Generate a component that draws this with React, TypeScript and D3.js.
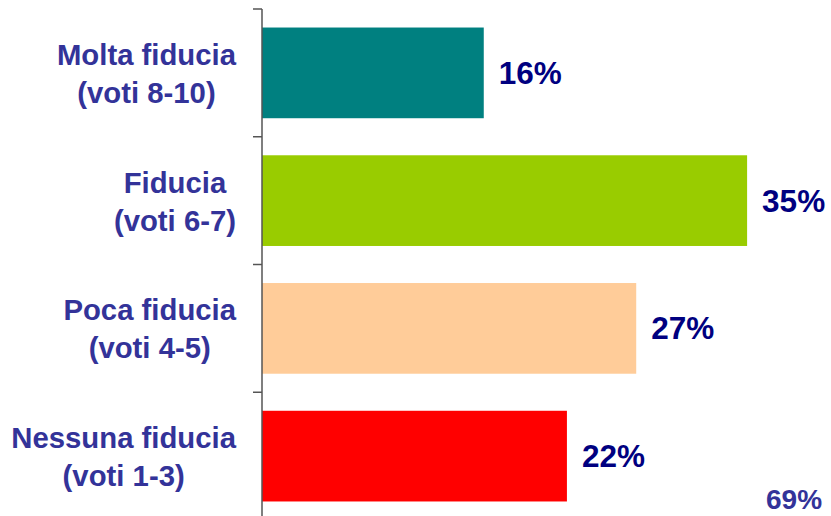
import React, { useEffect, useRef } from 'react';
import * as d3 from 'd3';

const categories = ['Molta fiducia|(voti 8-10)', 'Fiducia|(voti 6-7)', 'Poca fiducia|(voti 4-5)', 'Nessuna fiducia|(voti 1-3)'];
const values = [16, 35, 27, 22];
const colors = ['#008080', '#99CC00', '#FFCC99', '#FF0000'];
const extraLabel = '69%';

const W = 831;
const H = 516;

export default function App() {
  const ref = useRef<SVGSVGElement>(null);

  useEffect(() => {
    const svg = d3.select(ref.current);
    svg.selectAll('*').remove();

    const left = 262;
    const top = 9;
    const bottom = 520;

    const x = d3.scaleLinear().domain([0, 40]).range([left, left + 40 * 13.86]);
    const y = d3.scaleBand<string>()
      .domain(categories)
      .range([top, bottom])
      .paddingInner(0.29)
      .paddingOuter(0.145);

    const step = y.step();
    const font = 'Liberation Sans, Arial, sans-serif';

    // bars
    svg.selectAll('rect.bar')
      .data(categories)
      .enter().append('rect')
      .attr('class', 'bar')
      .attr('x', x(0))
      .attr('y', d => y(d)!)
      .attr('width', (d, i) => x(values[i]) - x(0))
      .attr('height', y.bandwidth())
      .attr('fill', (d, i) => colors[i]);

    // axis line and ticks
    svg.append('line')
      .attr('x1', left).attr('x2', left)
      .attr('y1', top).attr('y2', H)
      .attr('stroke', '#555').attr('stroke-width', 1.5);
    d3.range(categories.length + 1).forEach(i => {
      const ty = top + i * step;
      svg.append('line')
        .attr('x1', left - 9).attr('x2', left)
        .attr('y1', ty).attr('y2', ty)
        .attr('stroke', '#555').attr('stroke-width', 1.5);
    });

    // category labels: centred block, right edge at 236
    categories.forEach(c => {
      const lines = c.split('|');
      const cy = y(c)! + y.bandwidth() / 2;
      const g = svg.append('g');
      const texts = lines.map((ln, j) => g.append('text')
        .attr('y', cy + (j - (lines.length - 1) / 2) * 38 + 11)
        .attr('text-anchor', 'middle')
        .attr('font-family', font)
        .attr('font-weight', 'bold')
        .attr('font-size', 29.3)
        .attr('fill', '#333399')
        .text(ln));
      const maxW = d3.max(texts, t => (t.node() as SVGTextElement).getComputedTextLength()) || 0;
      texts.forEach(t => t.attr('x', 236 - maxW / 2));
    });

    // value labels
    svg.selectAll('text.val')
      .data(categories)
      .enter().append('text')
      .attr('class', 'val')
      .attr('x', (d, i) => x(values[i]) + 15)
      .attr('y', d => y(d)! + y.bandwidth() / 2 + 11)
      .attr('font-family', font)
      .attr('font-weight', 'bold')
      .attr('font-size', 31.5)
      .attr('fill', '#000080')
      .text((d, i) => `${values[i]}%`);

    svg.append('text')
      .attr('x', 766)
      .attr('y', 509)
      .attr('font-family', font)
      .attr('font-weight', 'bold')
      .attr('font-size', 28)
      .attr('fill', '#333399')
      .text(extraLabel);
  }, []);

  return (
    <svg
      ref={ref}
      width={W}
      height={H}
      style={{ position: 'absolute', left: 0, top: 0, background: '#fff' }}
    />
  );
}
